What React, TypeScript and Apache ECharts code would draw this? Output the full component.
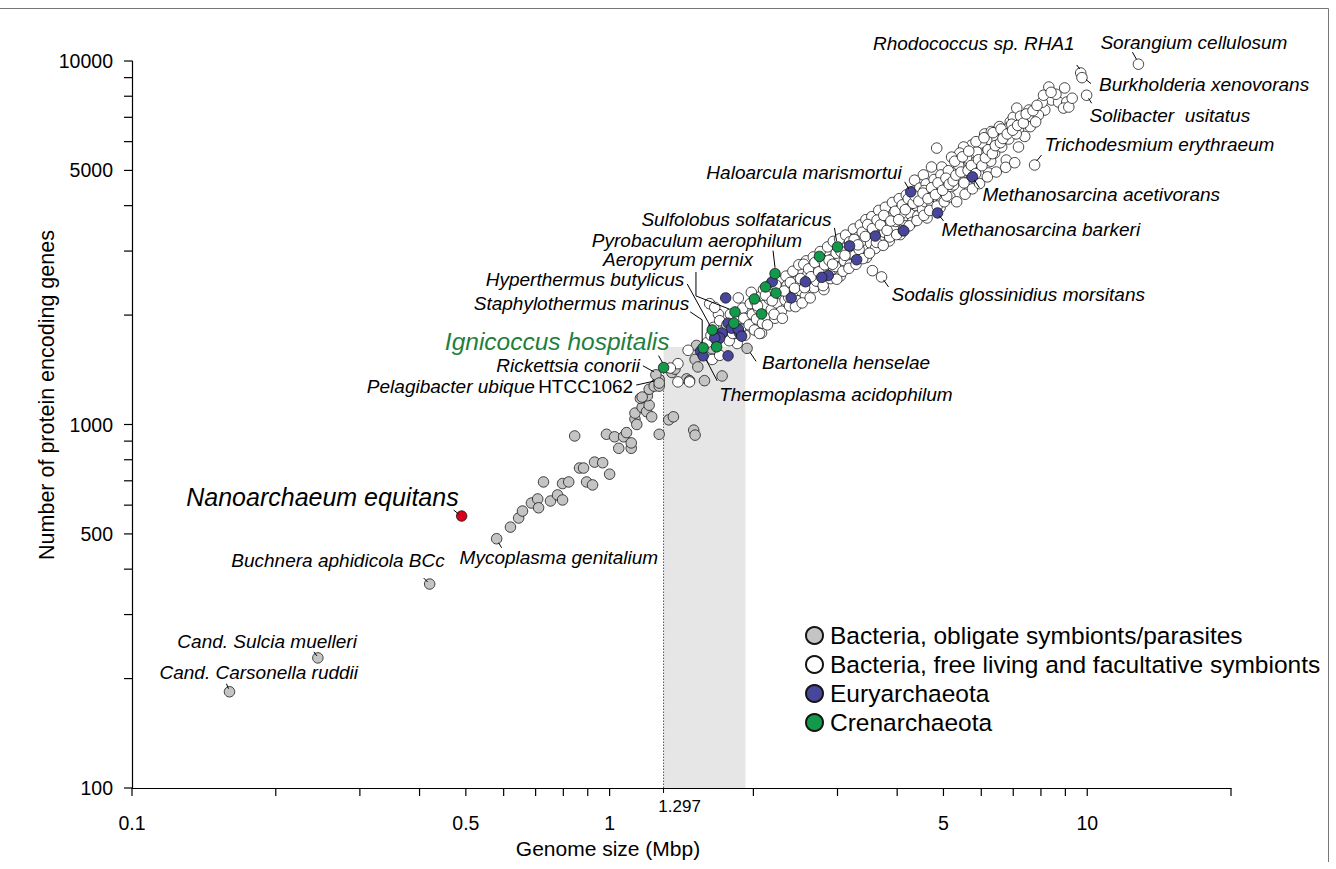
import React, { useEffect, useRef } from "react";
import * as echarts from "echarts";

// ---------------- data (genome size in Mbp, protein encoding genes) ----------------
const obligateSymbionts: [number, number][] = [
  [0.62, 522], [0.645, 553], [0.657, 578], [0.686, 608], [0.707, 624], [0.71, 590], [0.752, 616],
  [0.778, 640], [0.797, 620], [0.727, 695], [0.797, 688], [0.821, 695], [0.895, 695], [0.921, 682],
  [0.865, 759], [0.882, 759], [0.93, 788], [0.967, 785], [1.0, 730],
  [0.845, 930], [0.985, 940], [1.024, 925], [1.07, 925], [1.045, 860], [1.11, 860], [1.085, 950], [1.11, 890],
  [1.13, 1035], [1.13, 1075], [1.17, 1115], [1.195, 1085], [1.21, 1130], [1.225, 1050], [1.14, 1000],
  [1.16, 1180], [1.2, 1200], [1.17, 1190], [1.21, 1250], [1.25, 1290],
  [1.27, 940], [1.33, 1030], [1.36, 1050], [1.5, 965], [1.51, 935],
  [1.24, 1275], [1.27, 1275], [1.27, 1330], [1.35, 1390], [1.37, 1420], [1.45, 1335], [1.47, 1320],
  [1.58, 1320], [1.72, 1360], [1.51, 1510], [1.53, 1440], [1.52, 1650], [1.64, 1615],
];

const freeLiving: [number, number][] = [
  [1.39, 1470], [1.34, 1430], [1.46, 1600], [1.39, 1310], [1.47, 1310], [1.64, 1510], [1.7, 1550],
  [1.85, 1670], [2.08, 1785], [1.92, 1760], [1.86, 2230], [1.94, 2090], [1.69, 2010], [1.62, 2150], [1.66, 2100],
  [1.6, 1680], [1.63, 1760], [1.65, 1850], [1.68, 1700], [1.7, 1930], [1.73, 1800], [1.76, 1880],
  [1.78, 1700], [1.79, 2010], [1.81, 1780], [1.84, 1920], [1.88, 1830], [1.9, 2090], [1.91, 1960],
  [1.96, 1880], [1.97, 2150], [1.99, 2010], [2.01, 1820], [2.03, 1950], [2.05, 2080], [2.07, 2250],
  [2.09, 1900], [2.11, 2130], [2.13, 1990], [2.16, 2210], [2.18, 2070], [2.2, 2340], [2.22, 1960],
  [2.24, 2160], [2.27, 2290], [2.29, 2050], [2.31, 2440], [2.33, 2200], [2.36, 2350], [2.38, 2120],
  [2.41, 2520], [2.43, 2280], [2.46, 2400], [2.48, 2190], [2.5, 2620], [2.52, 2330], [2.55, 2480],
  [2.57, 2260], [2.6, 2590], [2.62, 2420], [2.65, 2740], [2.68, 2380], [2.7, 2560], [2.73, 2860],
  [2.75, 2470], [2.78, 2680], [2.81, 2350], [2.84, 2790], [2.87, 2960], [2.89, 2600], [2.92, 2850],
  [2.95, 3080], [2.97, 2720], [3.01, 2900], [3.04, 2560], [3.07, 3150], [3.1, 2820], [3.13, 3000],
  [3.16, 3260], [3.19, 2750], [3.22, 3100], [3.26, 2920], [3.3, 3350], [3.33, 3030], [3.37, 3200],
  [3.41, 3480], [3.45, 2880], [3.48, 3300], [3.52, 3150], [3.56, 3560], [3.6, 3050], [3.64, 3420],
  [3.68, 3250], [3.72, 3700], [3.76, 3380], [3.8, 3550], [3.85, 3200], [3.89, 3780], [3.93, 3450],
  [3.97, 3620], [4.02, 3900], [4.06, 3330], [4.11, 3700], [4.15, 3520], [4.2, 4050],
  [4.25, 3800], [4.3, 3600], [4.38, 4000], [4.42, 3750], [4.47, 4200], [4.52, 3900], [4.58, 4100],
  [4.62, 3700], [4.7, 4300], [4.75, 4050], [4.82, 4400], [4.88, 4150], [4.92, 3950], [5.0, 4600],
  [5.05, 4350], [5.1, 4750], [5.18, 4500], [5.22, 4900], [5.3, 4700], [5.35, 5000], [5.45, 4800],
  [5.5, 5300], [5.6, 5100], [5.7, 5500], [5.8, 5250], [5.9, 5700], [6.05, 5500], [6.1, 6300],
  [6.25, 5900], [6.3, 6400], [6.5, 6100], [6.55, 6600], [6.7, 6450], [6.9, 6800], [7.0, 7000],
  [8.15, 7330], [6.77, 5340], [7.18, 5800], [4.84, 5760], [8.31, 8480], [8.97, 8430], [8.42, 7810],
  [8.71, 7710], [9.06, 7710], [8.92, 7420], [9.15, 7470], [7.12, 7420], [7.55, 7330], [7.65, 7015],
  [7.3, 6880], [6.88, 6580], [7.18, 6460], [6.68, 6340], [6.37, 6180], [6.16, 6060], [6.01, 5950],
  [5.73, 5870], [5.51, 5800], [5.41, 5580], [5.2, 5440], [4.96, 5110], [4.72, 5110], [4.54, 4860],
  [4.35, 4700], [4.23, 4150], [4.09, 3970], [3.95, 3840], [3.8, 3820], [6.22, 4920], [5.67, 4500],
  [5.51, 5010], [6.01, 5340], [6.4, 5580], [5.59, 5410], [5.87, 5620], [5.38, 5170], [5.13, 4920],
  [4.96, 4650], [4.79, 4500], [4.66, 4360], [4.5, 4230], [4.72, 3970], [4.96, 4150], [5.25, 4560],
  [5.41, 4770],
  [1.98, 2310], [2.02, 2180], [2.06, 1780], [2.1, 2350], [2.14, 1880], [2.17, 2430], [2.21, 2010],
  [2.26, 2480], [2.3, 1960], [2.34, 2560], [2.37, 2240], [2.42, 2640], [2.45, 2110], [2.49, 2750],
  [2.53, 2160], [2.47, 2480], [2.26, 2380], [2.12, 2270], [2.35, 2410],
  [2.58, 2820], [2.63, 2230], [2.67, 2890], [2.71, 2480], [2.76, 2990], [2.8, 2410], [2.86, 3080],
  [2.9, 2520], [2.94, 3190], [2.99, 2510], [3.03, 3240], [3.08, 2640], [3.12, 3320], [3.17, 2690],
  [2.66, 2650], [2.83, 2600], [2.98, 2960], [3.14, 3080], [2.55, 2760], [2.72, 2730],
  [3.24, 3450], [3.28, 2760], [3.35, 3540], [3.39, 2860], [3.44, 3660], [3.5, 2960], [3.54, 3730],
  [3.62, 3170], [3.66, 3880], [3.74, 3110], [3.78, 3960], [3.86, 3280], [3.91, 4080], [3.99, 3330],
  [4.04, 4180], [4.12, 3420], [3.32, 3280], [3.58, 3350], [3.83, 3700], [4.08, 3800],
  [4.18, 4280], [4.24, 3520], [4.33, 4380], [4.4, 3640], [4.46, 4470], [4.55, 3760], [4.6, 4590],
  [4.68, 3880], [4.78, 4720], [4.85, 3990], [4.94, 4860], [5.02, 4100], [5.12, 4990], [5.16, 4230],
  [4.28, 4050], [4.56, 4400], [4.9, 4550], [5.08, 4250],
  [5.28, 5300], [5.33, 4100], [5.48, 5450], [5.55, 4300], [5.65, 5650], [5.75, 4450], [5.85, 6000],
  [5.95, 4600], [6.08, 6150], [6.18, 4800], [6.35, 6350], [6.45, 4950], [6.6, 6500], [6.75, 5100],
  [6.95, 6700], [7.05, 5250], [7.25, 7050], [7.4, 6200], [7.6, 6600], [6.28, 5300], [6.62, 5800],
  [6.85, 6100], [7.1, 6300], [7.9, 7100], [8.05, 7700], [8.6, 8100], [9.3, 7900], [7.8, 6800],
  [2.04, 2120], [2.19, 2190], [2.23, 2420], [2.32, 2330], [2.39, 2460], [2.44, 2370], [2.51, 2520],
  [2.56, 2380], [2.61, 2680], [2.64, 2550], [2.69, 2790], [2.74, 2630], [2.79, 2840], [2.82, 2750],
  [2.88, 2830], [2.93, 2760], [3.05, 2990], [3.11, 2920], [3.18, 3180], [3.25, 3230], [3.31, 3120],
  [3.38, 3380], [3.43, 3290], [3.47, 3550], [3.55, 3460], [3.63, 3650], [3.69, 3540], [3.75, 3760],
  [3.81, 3420], [3.88, 3630], [3.96, 3860], [4.03, 3660], [4.1, 4020], [4.16, 3900], [4.22, 4180],
  [4.32, 4060], [4.36, 4250], [4.44, 4120], [4.53, 4330], [4.64, 4180], [4.72, 4480], [4.81, 4290],
  [4.87, 4620], [4.98, 4410], [5.06, 4760], [5.14, 4580], [5.24, 4680], [5.31, 4850], [5.44, 4950],
  [5.52, 4620], [5.63, 5000], [5.72, 5160], [5.84, 4900], [5.92, 5350], [6.02, 5150], [6.12, 5420],
  [6.2, 5700], [6.33, 5560], [6.42, 5850], [6.58, 5960], [6.66, 6120], [6.8, 6300], [6.98, 6450],
  [7.15, 6650], [7.35, 6750], [7.45, 7150], [7.7, 7300], [7.85, 7550], [8.1, 8050], [8.4, 8200],
  [3.55, 2650],
];

const euryarchaeota: [number, number][] = [
  [2.19, 2470], [2.57, 2470], [1.75, 2230], [1.77, 1900], [1.8, 1840], [1.72, 1785], [1.67, 1750],
  [1.7, 1730], [1.87, 1785], [1.86, 1830], [1.89, 1750], [1.66, 1730], [1.77, 1545], [1.55, 1590],
  [3.18, 3100], [3.29, 2840], [3.6, 3300], [2.87, 2570], [2.78, 2540], [2.4, 2230], [4.13, 3410],
];

const crenarchaeota: [number, number][] = [
  [2.12, 2390], [2.23, 2300], [2.01, 2215], [2.08, 2015], [1.82, 1900], [1.675, 1635], [2.75, 2900],
];

// labelled genomes
const labelNames = [
  "Sorangium cellulosum", "Rhodococcus sp. RHA1", "Burkholderia xenovorans", "Solibacter  usitatus",
  "Trichodesmium erythraeum", "Haloarcula marismortui", "Methanosarcina acetivorans", "Methanosarcina barkeri",
  "Sodalis glossinidius morsitans", "Sulfolobus solfataricus", "Pyrobaculum aerophilum", "Aeropyrum pernix",
  "Hyperthermus butylicus", "Staphylothermus marinus", "Ignicoccus hospitalis", "Rickettsia conorii",
  "Pelagibacter ubique HTCC1062", "Bartonella henselae", "Thermoplasma acidophilum", "Nanoarchaeum equitans",
  "Buchnera aphidicola BCc", "Mycoplasma genitalium", "Cand. Sulcia muelleri", "Cand. Carsonella ruddii",
];
const labelX = [12.8, 9.69, 9.75, 9.97, 7.76, 4.27, 5.75, 4.86, 3.71, 3.0, 2.22, 1.83, 1.64, 1.57, 1.297, 1.25, 1.27, 1.94, 1.57, 0.49, 0.42, 0.58, 0.245, 0.16];
const labelY = [9800, 9270, 9000, 8050, 5175, 4365, 4800, 3820, 2547, 3080, 2600, 2040, 1820, 1625, 1434, 1370, 1300, 1620, 1545, 560, 364, 485, 228, 184];
// group: 0 obligate, 1 free living, 2 eury, 3 cren, 4 nano
const labelGroup = [1, 1, 1, 1, 1, 2, 2, 2, 1, 3, 3, 3, 3, 3, 3, 0, 0, 0, 2, 4, 0, 0, 0, 0];

// shaded region and marked genome size
const shadeRange = [1.297, 100, 1.925, 1633];
const markedSize = 1.297;

// axis ticks
const xMajorTicks = [0.1, 0.5, 1, 5, 10];
const xMajorLabels = ["0.1", "0.5", "1", "5", "10"];
const xMinorTicks = [0.2, 0.3, 0.4, 0.6, 0.7, 0.8, 0.9, 2, 3, 4, 6, 7, 8, 9, 20];
const yMajorTicks = [100, 500, 1000, 5000, 10000];
const yMajorLabels = ["100", "500", "1000", "5000", "10000"];
const yMinorTicks = [200, 300, 400, 600, 700, 800, 900, 2000, 3000, 4000, 6000, 7000, 8000, 9000];

const groupNames = [
  "Bacteria, obligate symbionts/parasites",
  "Bacteria, free living and facultative symbionts",
  "Euryarchaeota",
  "Crenarchaeota",
];

// ---------------- layout / style (not data) ----------------
const FONT = '"Liberation Sans", Arial, Helvetica, sans-serif';
const groupColors = ["#c4c4c4", "#ffffff", "#47469b", "#13994a", "#d9001c"];

type Ann = { dx: number; dy: number; align: "left" | "right"; leader: [number, number][]; size?: number; color?: string };
const annLayout: Ann[] = [
  { dx: -38, dy: -22, align: "left", leader: [[-6, -12], [-2, -5]] },
  { dx: -6, dy: -29, align: "right", leader: [[-4, -8], [-1, -4]] },
  { dx: 17, dy: 7, align: "left", leader: [[4, 2], [9, 6]] },
  { dx: 3, dy: 20, align: "left", leader: [[2, 3], [5, 8]] },
  { dx: 10, dy: -20, align: "left", leader: [[2, -4], [7, -10]] },
  { dx: -9, dy: -19, align: "right", leader: [[-6, -10], [-2, -3]] },
  { dx: 10, dy: 18, align: "left", leader: [[2, 3], [7, 11]] },
  { dx: 4, dy: 17, align: "left", leader: [[2, 3], [6, 8]] },
  { dx: 10, dy: 18, align: "left", leader: [[2, 3], [7, 10]] },
  { dx: -6, dy: -27, align: "right", leader: [[-3, -19], [-1, -6]] },
  { dx: 27, dy: -33, align: "right", leader: [[-2, -23], [0, -6]] },
  { dx: 18, dy: -52, align: "right", leader: [[-39, -40], [-39, -16], [-6, -3]] },
  { dx: -28, dy: -50, align: "right", leader: [[-25, -46], [-2, -4]] },
  { dx: -14, dy: -44, align: "right", leader: [[-13, -36], [-1, -28], [-1, -5]] },
  { dx: 6, dy: -26, align: "right", leader: [[-5, -12], [-1, -5]], size: 24.5, color: "#1f7f3c" },
  { dx: -16, dy: -9, align: "right", leader: [[-13, -9], [-2, -3]] },
  { dx: -26, dy: 3, align: "right", leader: [[-23, 2], [-5, -2]] },
  { dx: 15, dy: 14, align: "left", leader: [[3, 4], [9, 13]] },
  { dx: 16, dy: 39, align: "left", leader: [[3, 4], [14, 25]] },
  { dx: -3, dy: -19, align: "right", leader: [[-8, -6], [-3, -2]], size: 25 },
  { dx: 15, dy: -24, align: "right", leader: [[-6, -6], [-2, -2]] },
  { dx: -37, dy: 19, align: "left", leader: [[2, 4], [5, 9]] },
  { dx: 39, dy: -16, align: "right", leader: [[-4, -6], [-1, -2]] },
  { dx: -70, dy: -19, align: "left", leader: [[-3, -8], [-1, -3]] },
];

export default function App() {
  const ref = useRef<HTMLDivElement>(null);

  useEffect(() => {
    if (!ref.current) return;
    const chart = echarts.init(ref.current, undefined, { renderer: "svg" });

    const pointsOf = (g: number, base: [number, number][]) => [
      ...base,
      ...labelX.map((x, i) => [x, labelY[i]] as [number, number]).filter((_, i) => labelGroup[i] === g),
    ];

    const scatter = (name: string, g: number, data: [number, number][], z: number) => ({
      name,
      type: "scatter",
      data,
      z,
      symbol: "circle",
      symbolSize: 10.5,
      silent: true,
      itemStyle: { color: groupColors[g], borderColor: "#151515", borderWidth: 0.8, opacity: 1 },
      emphasis: { disabled: true },
    });

    const xTickVals = [...xMajorTicks, ...xMinorTicks];
    const yTickVals = [...yMajorTicks, ...yMinorTicks];

    const option: any = {
      animation: false,
      backgroundColor: "#ffffff",
      grid: { left: 132, top: 61, width: 1099, height: 727, containLabel: false },
      xAxis: {
        type: "log",
        logBase: 10,
        min: 0.1,
        max: 20,
        axisLine: { show: true, onZero: false, lineStyle: { color: "#000", width: 1.2 } },
        axisTick: { show: false },
        axisLabel: { show: false },
        splitLine: { show: false },
      },
      yAxis: {
        type: "log",
        logBase: 10,
        min: 100,
        max: 10000,
        axisLine: { show: true, onZero: false, lineStyle: { color: "#000", width: 1.2 } },
        axisTick: { show: false },
        axisLabel: { show: false },
        splitLine: { show: false },
      },
      legend: {
        data: groupNames,
        orient: "vertical",
        left: 805,
        top: 623,
        padding: 0,
        itemWidth: 17,
        itemHeight: 17,
        itemGap: 4,
        icon: "circle",
        selectedMode: false,
        textStyle: { fontFamily: FONT, fontSize: 24.5, color: "#000", lineHeight: 25, padding: [0, 0, 0, 2] },
      },
      graphic: [
        { type: "line", shape: { x1: 0, y1: 8.5, x2: 1328.5, y2: 8.5 }, style: { stroke: "#777", lineWidth: 1 } },
        { type: "line", shape: { x1: 1328.5, y1: 8.5, x2: 1328.5, y2: 862 }, style: { stroke: "#777", lineWidth: 1 } },
        {
          type: "text",
          x: 608,
          y: 848,
          style: { text: "Genome size (Mbp)", fill: "#000", font: `21px ${FONT}`, align: "center", verticalAlign: "middle" },
        },
        {
          type: "text",
          x: 47,
          y: 395,
          rotation: Math.PI / 2,
          style: { text: "Number of protein encoding genes", fill: "#000", font: `21.5px ${FONT}`, align: "center", verticalAlign: "middle" },
        },
      ],
      series: [
        {
          type: "custom",
          name: "shade",
          z: 1,
          silent: true,
          clip: false,
          data: [shadeRange],
          renderItem: (params: any, api: any) => {
            const p1 = api.coord([api.value(0), api.value(1)]);
            const p2 = api.coord([api.value(2), api.value(3)]);
            const top = api.coord([markedSize, labelY[14]]);
            return {
              type: "group",
              children: [
                {
                  type: "rect",
                  shape: { x: p1[0], y: p2[1], width: p2[0] - p1[0], height: p1[1] - p2[1] },
                  style: { fill: "#e6e6e6" },
                },
                {
                  type: "line",
                  shape: { x1: p1[0], y1: p1[1], x2: p1[0], y2: top[1] },
                  style: { stroke: "#555", lineWidth: 1, lineDash: [1.5, 1.5] },
                },
              ],
            };
          },
        },
        scatter(groupNames[0], 0, pointsOf(0, obligateSymbionts), 3),
        scatter(groupNames[1], 1, pointsOf(1, freeLiving), 4),
        scatter(groupNames[2], 2, pointsOf(2, euryarchaeota), 5),
        scatter(groupNames[3], 3, pointsOf(3, crenarchaeota), 6),
        scatter("Nanoarchaeota", 4, pointsOf(4, []), 7),
        {
          type: "custom",
          name: "xticks",
          z: 8,
          silent: true,
          clip: false,
          data: xTickVals.map((v) => [v, 100]),
          renderItem: (params: any, api: any) => {
            const i = params.dataIndex;
            const p = api.coord([api.value(0), api.value(1)]);
            const children: any[] = [
              { type: "line", shape: { x1: p[0], y1: p[1], x2: p[0], y2: p[1] + 8 }, style: { stroke: "#000", lineWidth: 1.2 } },
            ];
            if (i < xMajorLabels.length) {
              children.push({
                type: "text",
                x: p[0],
                y: p[1] + 35,
                style: { text: xMajorLabels[i], fill: "#000", font: `19.5px ${FONT}`, align: "center", verticalAlign: "middle" },
              });
            }
            return { type: "group", children };
          },
        },
        {
          type: "custom",
          name: "marked",
          z: 8,
          silent: true,
          clip: false,
          data: [[markedSize, 100]],
          renderItem: (params: any, api: any) => {
            const p = api.coord([api.value(0), api.value(1)]);
            return {
              type: "group",
              children: [
                { type: "line", shape: { x1: p[0], y1: p[1], x2: p[0], y2: p[1] + 5 }, style: { stroke: "#000", lineWidth: 1 } },
                {
                  type: "text",
                  x: p[0] + 16,
                  y: p[1] + 18,
                  style: { text: String(markedSize), fill: "#000", font: `17px ${FONT}`, align: "center", verticalAlign: "middle" },
                },
              ],
            };
          },
        },
        {
          type: "custom",
          name: "yticks",
          z: 8,
          silent: true,
          clip: false,
          data: yTickVals.map((v) => [0.1, v]),
          renderItem: (params: any, api: any) => {
            const i = params.dataIndex;
            const p = api.coord([api.value(0), api.value(1)]);
            const children: any[] = [
              { type: "line", shape: { x1: p[0] - 8, y1: p[1], x2: p[0], y2: p[1] }, style: { stroke: "#000", lineWidth: 1.2 } },
            ];
            if (i < yMajorLabels.length) {
              children.push({
                type: "text",
                x: p[0] - 19,
                y: p[1],
                style: { text: yMajorLabels[i], fill: "#000", font: `19.5px ${FONT}`, align: "right", verticalAlign: "middle" },
              });
            }
            return { type: "group", children };
          },
        },
        {
          type: "custom",
          name: "annotations",
          z: 9,
          silent: true,
          clip: false,
          data: labelX.map((x, i) => [x, labelY[i]]),
          renderItem: (params: any, api: any) => {
            const i = params.dataIndex;
            const a = annLayout[i];
            const p = api.coord([api.value(0), api.value(1)]);
            const name = labelNames[i];
            const size = a.size || 19;
            const isPelagi = name.indexOf("HTCC") >= 0;
            const textStyle: any = isPelagi
              ? {
                  text: "{i|Pelagibacter ubique} {n|HTCC1062}",
                  rich: {
                    i: { fontStyle: "italic", fontSize: size, fontFamily: FONT, fill: "#000" },
                    n: { fontStyle: "normal", fontSize: size, fontFamily: FONT, fill: "#000" },
                  },
                }
              : { text: name, fill: a.color || "#000", font: `italic ${size}px ${FONT}` };
            return {
              type: "group",
              children: [
                {
                  type: "polyline",
                  shape: { points: a.leader.map(([dx, dy]) => [p[0] + dx, p[1] + dy]) },
                  style: { stroke: "#000", lineWidth: 1, fill: "none" },
                },
                {
                  type: "text",
                  x: p[0] + a.dx,
                  y: p[1] + a.dy,
                  style: { ...textStyle, align: a.align, verticalAlign: "middle" },
                },
              ],
            };
          },
        },
      ],
    };

    chart.setOption(option);
    return () => chart.dispose();
  }, []);

  return (
    <div
      ref={ref}
      style={{ position: "fixed", left: 0, top: 0, width: 1336, height: 869, background: "#fff" }}
    />
  );
}
